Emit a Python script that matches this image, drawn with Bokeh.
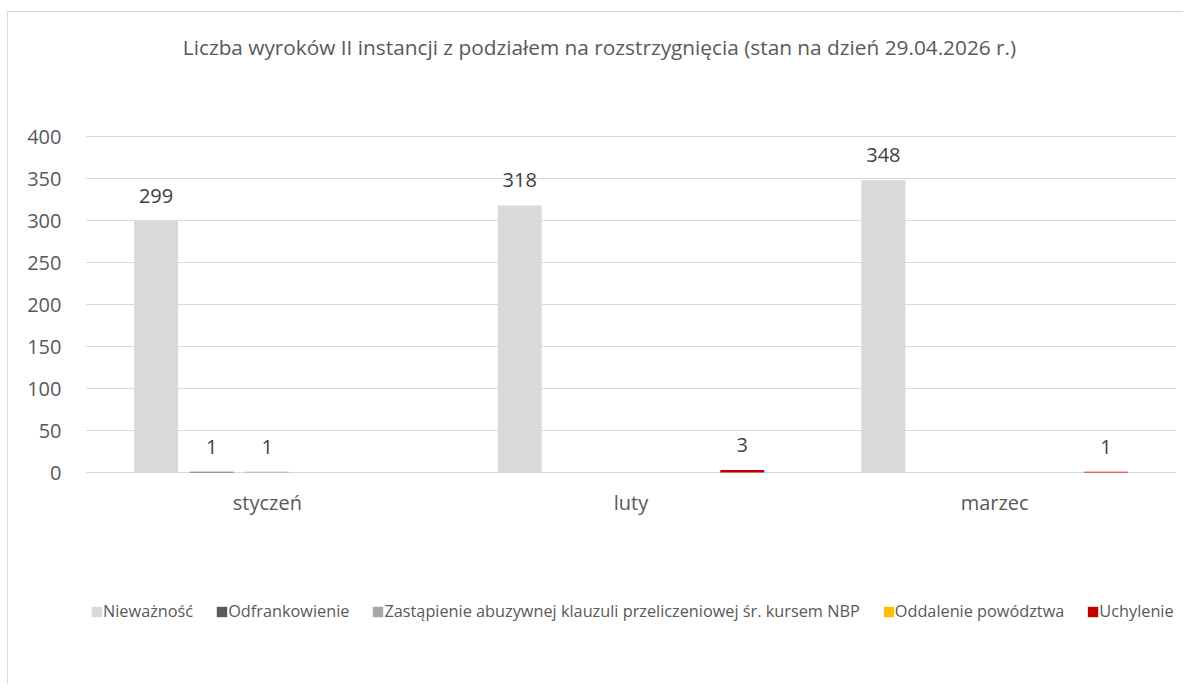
from bokeh.plotting import figure
from bokeh.models import (ColumnDataSource, Range1d, FactorRange, Legend,
                          LegendItem, FixedTicker, Label)
from bokeh.transform import dodge
from bokeh.core.properties import value
from bokeh.embed import file_html
from bokeh.resources import INLINE

TITLE = "Liczba wyroków II instancji z podziałem na rozstrzygnięcia (stan na dzień 29.04.2026 r.)"
months = ["styczeń", "luty", "marzec"]
series_names = [
    "Nieważność",
    "Odfrankowienie",
    "Zastąpienie abuzywnej klauzuli przeliczeniowej śr. kursem NBP",
    "Oddalenie powództwa",
    "Uchylenie",
]
niewaznosc = [299, 318, 348]
odfrankowienie = [1, None, None]
zastapienie = [1, None, None]
oddalenie = [None, None, None]
uchylenie = [None, 3, 1]
colors = ["#d9d9d9", "#595959", "#a6a6a6", "#ffc000", "#c00000"]
y_max = 400
y_step = 50

all_series = [niewaznosc, odfrankowienie, zastapienie, oddalenie, uchylenie]

FONT = "Open Sans"
TXT = "#595959"
GRID = "#d9d9d9"

# layout (pixels inside the figure)
W, H = 1176, 673
FRAME_L, FRAME_R = 77, 8
Y_TOP_PX, Y_ZERO_PX = 124, 460          # where y_max and 0 sit
px_per_unit = (Y_ZERO_PX - Y_TOP_PX) / y_max
y_lo = -(H - Y_ZERO_PX) / px_per_unit
y_hi = y_max + Y_TOP_PX / px_per_unit

p = figure(x_range=FactorRange(*months), y_range=Range1d(y_lo, y_hi),
           width=W, height=H, output_backend="svg", toolbar_location=None,
           min_border_left=FRAME_L, min_border_right=FRAME_R, min_border_top=0,
           min_border_bottom=0)
p.styles = {"margin-left": "7px", "margin-top": "11px",
            "border-left": "1px solid #d9d9d9", "border-top": "1px solid #d9d9d9"}

p.outline_line_color = None
p.xaxis.visible = False
p.xgrid.grid_line_color = None
p.ygrid.grid_line_color = GRID
p.ygrid.grid_line_width = 1
p.yaxis.ticker = FixedTicker(ticks=list(range(0, y_max + 1, y_step)))
p.yaxis.axis_line_color = None
p.yaxis.major_tick_line_color = None
p.yaxis.minor_tick_line_color = None
p.yaxis.major_label_standoff = 18
p.yaxis.major_label_text_font = FONT
p.yaxis.major_label_text_font_size = "20px"
p.yaxis.major_label_text_color = TXT

# category labels under the zero line
p.text(x=months, y=[0] * len(months), text=months, text_align="center",
       text_baseline="alphabetic", y_offset=30, text_font=value(FONT),
       text_font_size="20px", text_color=TXT)

spacing = 0.153
bar_w = 0.121
items = []
for i, (name, vals, col) in enumerate(zip(series_names, all_series, colors)):
    off = (i - 2) * spacing
    tops = [float("nan") if v is None else v for v in vals]
    src = ColumnDataSource(dict(x=months, top=tops))
    r = p.vbar(x=dodge("x", off, range=p.x_range), top="top", bottom=0,
               width=bar_w, source=src, fill_color=col, line_color=None)
    items.append(LegendItem(label=name, renderers=[r]))
    lx = [m for m, v in zip(months, vals) if v is not None]
    ly = [v for v in vals if v is not None]
    if lx:
        lsrc = ColumnDataSource(dict(x=lx, y=ly, t=[str(v) for v in ly]))
        p.text(x=dodge("x", off, range=p.x_range), y="y", text="t", source=lsrc,
               text_align="center", text_baseline="alphabetic", y_offset=-25,
               text_font=value(FONT), text_font_size="20px", text_color="#404040")

legend = Legend(items=items, orientation="horizontal", location=(5, 63),
                glyph_width=13, glyph_height=13, label_standoff=0, spacing=22,
                padding=0, margin=0, border_line_color=None,
                background_fill_alpha=0, label_text_font=FONT,
                label_text_font_size="16.3px", label_text_color=TXT)
p.add_layout(legend)

p.add_layout(Label(x=514, y=H - 34, x_units="screen", y_units="screen", text=TITLE,
                   text_align="center", text_baseline="alphabetic",
                   text_font=FONT, text_font_size="20.8px", text_color=TXT))

open("out.html", "w").write(file_html(p, INLINE))
